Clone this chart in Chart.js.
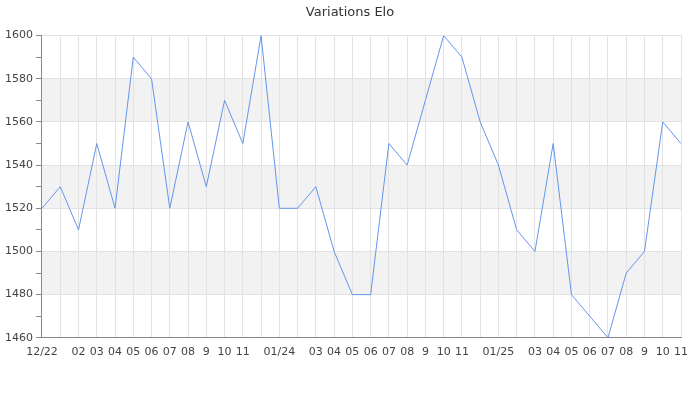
<!DOCTYPE html>
<html>
<head>
<meta charset="utf-8">
<script src="https://cdn.jsdelivr.net/npm/chart.js@4"></script>
<style>
  body { margin: 0; background: #fff; }
  #wrap { width: 700px; height: 400px; }
</style>
</head>
<body>
<div id="wrap"><canvas id="chart"></canvas></div>
<script>
const months = ['12/22', '01', '02', '03', '04', '05', '06', '07', '08', '9', '10', '11',
    '12', '01/24', '02', '03', '04', '05', '06', '07', '08', '9', '10', '11',
    '12', '01/25', '02', '03', '04', '05', '06', '07', '08', '9', '10', '11'];
const elo = [1520, 1530, 1510, 1550, 1520, 1590, 1580, 1520, 1560, 1530, 1570, 1550,
    1600, 1520, 1520, 1530, 1500, 1480, 1480, 1550, 1540, 1570, 1600, 1590,
    1560, 1540, 1510, 1500, 1550, 1480, 1470, 1460, 1490, 1500, 1560, 1550];

// grey bands every other 20 points
const bands = {
    id: 'bands',
    afterLayout(chart) {
        // centre the title on the whole canvas, not the padded box
        const t = chart.titleBlock;
        if (t) {
            t.left = 0;
            t.right = chart.width;
            t.width = chart.width;
        }
    },
    beforeDraw(chart) {
        const { ctx, chartArea, scales: { y } } = chart;
        ctx.save();
        ctx.fillStyle = '#f2f2f2';
        for (let v = 1480; v < 1600; v += 40) {
            const top = y.getPixelForValue(v + 20);
            const bottom = y.getPixelForValue(v);
            ctx.fillRect(chartArea.left, top, chartArea.right - chartArea.left, bottom - top);
        }
        ctx.restore();
    }
};

const ctx = document.getElementById('chart').getContext('2d');
Chart.defaults.font.family = 'DejaVu Sans';
Chart.defaults.color = '#444';

new Chart(ctx, {
    type: 'line',
    data: {
        labels: months,
        datasets: [{
            label: 'Elo',
            data: elo,
            borderColor: '#6495ed',
            borderWidth: 1,
            pointRadius: 0,
            tension: 0,
            fill: false
        }]
    },
    options: {
        responsive: true,
        maintainAspectRatio: false,
        animation: false,
        layout: { padding: { left: 2, right: 19, top: 0, bottom: 33 } },
        plugins: {
            legend: { display: false },
            tooltip: { enabled: false },
            title: {
                display: true,
                text: 'Variations Elo',
                color: '#333',
                font: { size: 13, weight: 'normal' },
                padding: { top: 5, bottom: 15 }
            }
        },
        scales: {
            x: {
                offset: false,
                grid: { color: '#e2e2e2', drawTicks: false },
                border: { color: '#888' },
                ticks: {
                    autoSkip: false,
                    maxRotation: 0,
                    padding: 8,
                    font: { size: 11 },
                    callback: function (val, i) {
                        const prev = months[i - 1] || '';
                        const next = months[i + 1] || '';
                        if (prev.includes('/') || next.includes('/')) return '';
                        return months[i];
                    }
                }
            },
            y: {
                min: 1460,
                max: 1600,
                grid: {
                    color: c => c.tick && c.tick.value % 20 === 0 ? '#e2e2e2' : 'transparent',
                    tickColor: '#888',
                    tickLength: 6
                },
                border: { color: '#888' },
                ticks: {
                    stepSize: 10,
                    padding: 3,
                    font: { size: 11 },
                    callback: v => v % 20 === 0 ? v : ''
                }
            }
        }
    },
    plugins: [bands]
});
</script>
</body>
</html>
